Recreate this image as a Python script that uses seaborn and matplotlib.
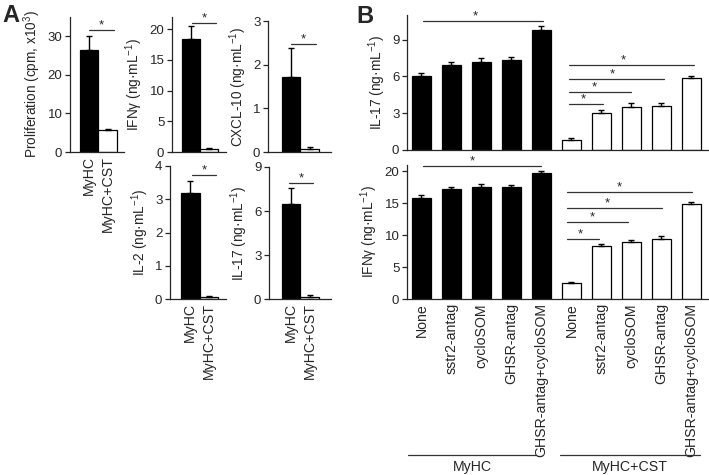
import matplotlib
matplotlib.use("Agg")
import matplotlib.pyplot as plt
import seaborn as sns
import pandas as pd
import numpy as np

# ---------------- data ----------------
groups_A = ["MyHC", "MyHC+CST"]
prolif = [26.5, 5.7]
prolif_err = [3.5, 0.3]
ifng_A = [18.4, 0.5]
ifng_A_err = [2.2, 0.1]
cxcl10 = [1.72, 0.07]
cxcl10_err = [0.66, 0.05]
il2 = [3.2, 0.05]
il2_err = [0.34, 0.05]
il17_A = [6.45, 0.15]
il17_A_err = [1.1, 0.12]

conditions = ["None", "sstr2-antag", "cycloSOM", "GHSR-antag", "GHSR-antag+cycloSOM"]
groups_B = ["MyHC", "MyHC+CST"]
il17_myhc = [6.05, 6.95, 7.2, 7.35, 9.74]
il17_myhc_err = [0.25, 0.2, 0.3, 0.25, 0.4]
il17_cst = [0.8, 3.0, 3.5, 3.6, 5.87]
il17_cst_err = [0.15, 0.27, 0.3, 0.25, 0.2]
ifng_myhc = [15.9, 17.3, 17.6, 17.6, 19.7]
ifng_myhc_err = [0.4, 0.3, 0.5, 0.3, 0.3]
ifng_cst = [2.5, 8.3, 8.9, 9.4, 14.9]
ifng_cst_err = [0.2, 0.35, 0.3, 0.5, 0.3]

# ---------------- style ----------------
sns.set_style("ticks")
plt.rcParams["font.family"] = ["Liberation Sans", "DejaVu Sans"]
plt.rcParams["mathtext.fontset"] = "custom"
plt.rcParams["mathtext.rm"] = "Liberation Sans"
plt.rcParams["mathtext.it"] = "Liberation Sans:italic"
plt.rcParams["mathtext.bf"] = "Liberation Sans:bold"
plt.rcParams["mathtext.default"] = "regular"
plt.rcParams["axes.linewidth"] = 0.9
plt.rcParams["ytick.major.width"] = 0.9
plt.rcParams["ytick.major.size"] = 3.5

W, H = 709, 475
fig = plt.figure(figsize=(W / 100, H / 100), dpi=100)

YTICK_FS = 9.5
XTICK_FS = 10.2
LAB_FS = 9.8

def px_axes(left, right, top, bottom):
    return fig.add_axes([left / W, 1 - bottom / H, (right - left) / W, (bottom - top) / H])

def style_ax(ax, ylim, yticks, ylabel):
    sns.despine(ax=ax)
    ax.set_ylim(*ylim)
    ax.set_yticks(yticks)
    ax.tick_params(axis="y", labelsize=YTICK_FS, direction="out", pad=2)
    ax.tick_params(axis="x", length=0, labelsize=XTICK_FS, pad=3)
    ax.set_ylabel(ylabel, fontsize=LAB_FS, labelpad=3)
    ax.set_xlabel("")

def sig(ax, x0, x1, y, xs=None):
    ax.plot([x0, x1], [y, y], color="#333333", lw=0.9, clip_on=False)
    if xs is None:
        xs = (x0 + x1) / 2
    ax.annotate("*", (xs, y), xytext=(0, -1.0), textcoords="offset points",
                ha="center", va="bottom", fontsize=9.5, annotation_clip=False)

def panelA(ax, vals, errs, xlim, ylim, yticks, ylabel, show_x, sigline):
    df = pd.DataFrame({"g": groups_A, "v": vals})
    sns.barplot(data=df, x="g", y="v", hue="g", palette=["black", "white"],
                order=groups_A, hue_order=groups_A, width=1.0, edgecolor="black",
                linewidth=0.9, legend=False, ax=ax, errorbar=None)
    ax.errorbar([0, 1], vals, yerr=[np.zeros(2), errs], fmt="none", ecolor="black",
                elinewidth=1.0, capsize=2.5, capthick=1.0, zorder=1)
    ax.set_xlim(*xlim)
    style_ax(ax, ylim, yticks, ylabel)
    if show_x:
        ax.set_xticks([0, 1])
        ax.set_xticklabels(groups_A, rotation=90, va="top")
    else:
        ax.set_xticks([])
    sig(ax, *sigline)

unit = " (ng·mL$^{-1}$)"

ax1 = px_axes(70, 124, 17, 152)
panelA(ax1, prolif, prolif_err, (-1.04, 1.88), (0, 35), [0, 10, 20, 30],
       "Proliferation (cpm, x10$^{3}$)", True, (0.0, 1.35, 31.7))
ax2 = px_axes(172, 226, 17, 152)
panelA(ax2, ifng_A, ifng_A_err, (-1.056, 1.944), (0, 22), [0, 5, 10, 15, 20],
       "IFNγ" + unit, False, (0.05, 1.4, 21.0))
ax3 = px_axes(268, 331, 21, 152)
panelA(ax3, cxcl10, cxcl10_err, (-1.257, 2.15), (0, 3), [0, 1, 2, 3],
       "CXCL-10" + unit, False, (0.0, 1.35, 2.47))
ax4 = px_axes(170, 226, 166, 299)
panelA(ax4, il2, il2_err, (-1.095, 1.93), (0, 4), [0, 1, 2, 3, 4],
       "IL-2" + unit, True, (0.08, 1.4, 3.72))
ax5 = px_axes(269, 331, 167, 299)
panelA(ax5, il17_A, il17_A_err, (-1.2, 2.15), (0, 9), [0, 3, 6, 9],
       "IL-17" + unit, True, (-0.1, 1.2, 7.9))

# ---------------- panel B ----------------
def panelB(ax, v1, e1, v2, e2, ylim, yticks, ylabel, show_x, top_sig, cst_sigs):
    keys = [f"{g}|{c}" for g in groups_B for c in conditions]
    vals = list(v1) + list(v2)
    errs = list(e1) + list(e2)
    df = pd.DataFrame({"k": keys, "v": vals,
                       "grp": [g for g in groups_B for _ in conditions]})
    sns.barplot(data=df, x="k", y="v", hue="grp", palette=["black", "white"],
                order=keys, hue_order=groups_B, dodge=False, width=0.63,
                edgecolor="black", linewidth=0.9, legend=False, ax=ax, errorbar=None)
    xs = np.arange(len(keys))
    ax.errorbar(xs, vals, yerr=[np.zeros(len(xs)), errs], fmt="none", ecolor="black",
                elinewidth=1.0, capsize=2.5, capthick=1.0, zorder=1)
    ax.set_xlim(-0.48, 9.55)
    style_ax(ax, ylim, yticks, ylabel)
    if show_x:
        ax.set_xticks(xs)
        ax.set_xticklabels(conditions * 2, rotation=90, va="top")
    else:
        ax.set_xticks([])
    sig(ax, *top_sig)
    for (x0, x1, y, xst) in cst_sigs:
        sig(ax, x0, x1, y, xst)

axB1 = px_axes(407, 708, 15, 150)
panelB(axB1, il17_myhc, il17_myhc_err, il17_cst, il17_cst_err, (0, 11), [0, 3, 6, 9],
       "IL-17" + unit, False, (0.05, 4.05, 10.5, 1.8),
       [(4.92, 6.05, 3.75, 5.38), (4.92, 6.98, 4.7, 5.75),
        (4.92, 8.08, 5.8, 6.35), (4.92, 9.08, 6.9, 6.72)])
axB2 = px_axes(407, 708, 165, 299)
panelB(axB2, ifng_myhc, ifng_myhc_err, ifng_cst, ifng_cst_err, (0, 21), [0, 5, 10, 15, 20],
       "IFNγ" + unit, True, (0.05, 3.98, 20.8, 1.7),
       [(4.85, 5.92, 9.4, 5.3), (4.85, 6.88, 12.1, 5.7),
        (4.85, 8.02, 14.2, 6.2), (4.85, 9.02, 16.8, 6.6)])

# group brackets under panel B
trans = axB2.get_xaxis_transform()
for (x0, x1, xc, name) in [(-0.45, 3.82, 1.69, groups_B[0]), (4.62, 9.28, 6.95, groups_B[1])]:
    axB2.plot([x0, x1], [-1.164, -1.164], color="#333333", lw=0.9, transform=trans, clip_on=False)
    axB2.text(xc, -1.25, name, transform=trans, ha="center", va="center", fontsize=XTICK_FS)

fig.text(2 / W, 1 - 4 / H, "A", fontsize=17, fontweight="bold", ha="left", va="top")
fig.text(356 / W, 1 - 5 / H, "B", fontsize=17, fontweight="bold", ha="left", va="top")

fig.savefig("out.png", dpi=100)
